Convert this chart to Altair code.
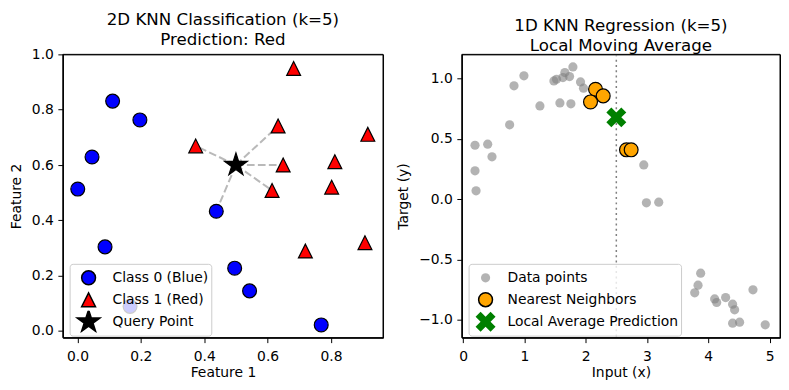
import altair as alt
import pandas as pd

# ---------------- Left panel: 2D KNN classification ----------------
blue_x = [0.111, 0.197, 0.046, 0.001, 0.438, 0.087, 0.496, 0.543, 0.769, 0.166]
blue_y = [0.831, 0.763, 0.629, 0.513, 0.433, 0.304, 0.227, 0.145, 0.022, 0.089]
red_x = [0.682, 0.633, 0.916, 0.373, 0.649, 0.812, 0.614, 0.802, 0.719, 0.907]
red_y = [0.949, 0.741, 0.711, 0.669, 0.600, 0.612, 0.508, 0.520, 0.289, 0.319]
query_x = 0.5
query_y = 0.6
nbr2d_x = [0.373, 0.633, 0.649, 0.614, 0.438]
nbr2d_y = [0.669, 0.741, 0.600, 0.508, 0.433]
left_labels = ["Class 0 (Blue)", "Class 1 (Red)", "Query Point"]
left_xlim = [-0.046, 0.964]
left_ylim = [-0.024, 1.0]
left_xticks = [0, 0.2, 0.4, 0.6, 0.8]
left_yticks = [0, 0.2, 0.4, 0.6, 0.8, 1.0]

# ---------------- Right panel: 1D KNN regression ----------------
data_x = [0.195, 0.402, 0.472, 0.195, 0.212, 0.760, 0.831, 0.993, 1.254, 1.482,
          1.525, 1.629, 1.661, 1.737, 1.792, 1.580, 1.759, 1.916, 1.965, 2.161,
          2.286, 2.079, 2.666, 2.742, 2.948, 2.991, 3.192, 3.876, 3.833, 3.779,
          4.104, 4.137, 4.283, 4.397, 4.430, 4.397, 4.511, 4.729, 4.929]
data_y = [0.447, 0.456, 0.351, 0.235, 0.069, 0.616, 0.939, 1.022, 0.773, 0.980,
          0.994, 1.008, 1.049, 1.016, 1.096, 0.798, 0.790, 0.972, 0.920, 0.911,
          0.856, 0.806, 0.409, 0.409, 0.284, -0.030, -0.025, -0.613, -0.712, -0.776,
          -0.826, -0.856, -0.815, -0.870, -0.917, -1.027, -1.019, -0.751, -1.041]
nbr1d_x = [2.161, 2.286, 2.079, 2.666, 2.742]
nbr1d_y = [0.911, 0.856, 0.806, 0.409, 0.409]
query1d_x = 2.5
pred_y = 0.678
right_labels = ["Data points", "Nearest Neighbors", "Local Average Prediction"]
right_xlim = [-0.02, 5.17]
right_ylim = [-1.147, 1.20]
right_xticks = [0, 1, 2, 3, 4, 5]
right_yticks = [-1.0, -0.5, 0.0, 0.5, 1.0]

FONT = "DejaVu Sans"
INK = "#000000"
TRI = "M0,-1L-1,1L1,1Z"
STAR = ("M0,-1L0.2245,-0.309L0.951,-0.309L0.363,0.118L0.588,0.809L0,0.382"
        "L-0.588,0.809L-0.363,0.118L-0.951,-0.309L-0.2245,-0.309Z")
XFILL = ("M0,-0.5L0.5,-1L1,-0.5L0.5,0L1,0.5L0.5,1L0,0.5L-0.5,1L-1,0.5"
         "L-0.5,0L-1,-0.5L-0.5,-1Z")

W_L, W_R, H = 321, 319, 284


def make_legend():
    return alt.Legend(
        title=None, orient="none", legendX=6.8, legendY=210,
        fillColor="rgba(255,255,255,0.8)", strokeColor="#cccccc",
        cornerRadius=3, padding=3, symbolOffset=3, labelFontSize=13.9,
        labelFont=FONT, labelColor=INK, labelOffset=11, rowPadding=-2.5,
        clipHeight=22, labelBaseline="middle", labelLimit=400,
    )


def axis(title, values, fmt, horizontal):
    return alt.Axis(
        title=title, values=values, format=fmt, grid=False,
        domain=True, domainColor=INK, domainWidth=1, domainOpacity=1,
        tickColor=INK, tickSize=5, tickWidth=1, tickOpacity=1,
        labelFontSize=13.9, labelFont=FONT, labelColor=INK,
        labelPadding=7 if horizontal else 4.5,
        titleFont=FONT, titleFontSize=13.9, titleFontWeight="normal",
        titleColor=INK, titlePadding=2 if horizontal else 8,
    )


def spines(xs, xa, ys, ya, xlim, ylim):
    vx = alt.Chart(pd.DataFrame({"sx": xlim})).mark_rule(
        color=INK, strokeWidth=1, opacity=1).encode(x=alt.X("sx:Q", scale=xs, axis=xa))
    hy = alt.Chart(pd.DataFrame({"sy": ylim})).mark_rule(
        color=INK, strokeWidth=1, opacity=1).encode(y=alt.Y("sy:Q", scale=ys, axis=ya))
    return [vx, hy]


# ----- left chart -----
left_pts = pd.DataFrame({
    "x": blue_x + red_x + [query_x],
    "y": blue_y + red_y + [query_y],
    "label": [left_labels[0]] * len(blue_x) + [left_labels[1]] * len(red_x)
             + [left_labels[2]],
})
left_lines = pd.DataFrame({
    "x": [query_x] * len(nbr2d_x), "y": [query_y] * len(nbr2d_y),
    "x2": nbr2d_x, "y2": nbr2d_y,
})

xs_l = alt.Scale(domain=left_xlim, nice=False, zero=False)
ys_l = alt.Scale(domain=left_ylim, nice=False, zero=False)
xa_l = axis("Feature 1", left_xticks, ".1f", True)
ya_l = axis("Feature 2", left_yticks, ".1f", False)
xl = alt.X("x:Q", scale=xs_l, axis=xa_l)
yl = alt.Y("y:Q", scale=ys_l, axis=ya_l)

lines_l = alt.Chart(left_lines).mark_rule(
    color="gray", opacity=0.55, strokeWidth=2, strokeDash=[7.7, 3.3]
).encode(x=xl, y=yl, x2="x2:Q", y2="y2:Q")

lg = make_legend()
pts_l = alt.Chart(left_pts).mark_point(
    filled=True, stroke=INK, strokeWidth=1.2, opacity=1
).encode(
    x=xl, y=yl,
    fill=alt.Fill("label:N", scale=alt.Scale(domain=left_labels,
                                             range=["blue", "red", INK]), legend=lg),
    shape=alt.Shape("label:N", scale=alt.Scale(domain=left_labels,
                                               range=["circle", TRI, STAR]), legend=lg),
    size=alt.Size("label:N", scale=alt.Scale(type="ordinal", domain=left_labels,
                                             range=[193, 193, 576]), legend=lg),
)

TITLE_KW = dict(font=FONT, fontSize=16.7, fontWeight="normal", color=INK,
                anchor="middle", frame="group", lineHeight=20.5, offset=-1.5)

left = alt.layer(lines_l, pts_l,
                 *spines(xs_l, xa_l, ys_l, ya_l, left_xlim, left_ylim)).properties(
    width=W_L, height=H,
    title=alt.TitleParams(["2D KNN Classification (k=5)", "Prediction: Red"], **TITLE_KW),
)

# ----- right chart -----
right_pts = pd.DataFrame({
    "x": data_x + nbr1d_x + [query1d_x],
    "y": data_y + nbr1d_y + [pred_y],
    "label": [right_labels[0]] * len(data_x) + [right_labels[1]] * len(nbr1d_x)
             + [right_labels[2]],
})
vline = pd.DataFrame({"x": [query1d_x]})

xs_r = alt.Scale(domain=right_xlim, nice=False, zero=False)
ys_r = alt.Scale(domain=right_ylim, nice=False, zero=False)
xa_r = axis("Input (x)", right_xticks, "d", True)
ya_r = axis("Target (y)", right_yticks, ".1f", False)
xr = alt.X("x:Q", scale=xs_r, axis=xa_r)
yr = alt.Y("y:Q", scale=ys_r, axis=ya_r)

rule_r = alt.Chart(vline).mark_rule(
    color="gray", strokeWidth=1.5, strokeDash=[2, 3.3]
).encode(x=xr)

lg2 = make_legend()
pts_r = alt.Chart(right_pts).mark_point(filled=True, strokeWidth=1.2, opacity=1).encode(
    x=xr, y=yr,
    fill=alt.Fill("label:N", scale=alt.Scale(domain=right_labels,
                                             range=["rgba(128,128,128,0.6)", "orange", "green"]),
                  legend=lg2),
    stroke=alt.Stroke("label:N", scale=alt.Scale(domain=right_labels,
                                                 range=["rgba(0,0,0,0)", INK, "rgba(0,0,0,0)"]),
                      legend=lg2),
    shape=alt.Shape("label:N", scale=alt.Scale(domain=right_labels,
                                               range=["circle", "circle", XFILL]), legend=lg2),
    size=alt.Size("label:N", scale=alt.Scale(type="ordinal", domain=right_labels,
                                             range=[85, 193, 400]), legend=lg2),
)

right = alt.layer(rule_r, pts_r,
                  *spines(xs_r, xa_r, ys_r, ya_r, right_xlim, right_ylim)).properties(
    width=W_R, height=H,
    title=alt.TitleParams(["1D KNN Regression (k=5)", "Local Moving Average"], **TITLE_KW),
)

chart = alt.hconcat(left, right, spacing=12).resolve_scale(
    x="independent", y="independent", fill="independent", shape="independent",
    size="independent", stroke="independent"
).properties(
    padding={"left": 0, "top": 2, "right": 0, "bottom": 0}
).configure(font=FONT).configure_view(stroke=INK, strokeWidth=1, strokeOpacity=1)

chart.save("out.html", embed_options={"renderer": "svg", "actions": False})
